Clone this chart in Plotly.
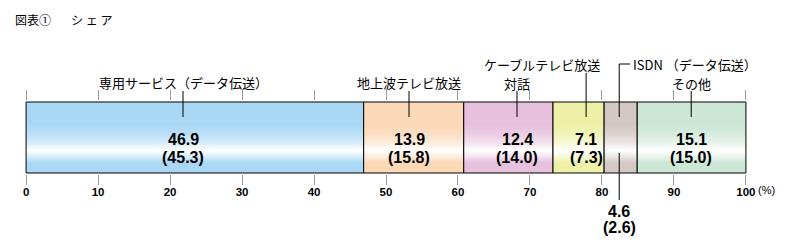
import plotly.graph_objects as go

# ---- data ----
categories = ["専用サービス（データ伝送）", "地上波テレビ放送", "対話",
              "ケーブルテレビ放送", "ISDN （データ伝送）", "その他"]
share_current = [46.9, 13.9, 12.4, 7.1, 4.6, 15.1]
share_previous = [45.3, 15.8, 14.0, 7.3, 2.6, 15.0]
tick_values = [0, 10, 20, 30, 40, 50, 60, 70, 80, 90, 100]
tick_labels = ["0", "10", "20", "30", "40", "50", "60", "70", "80", "90", "100"]
title_main = "図表①"
title_sub = "シ ェ ア"
unit_text = "(%)"

# ---- styles / layout positions ----
colors = ["#a9d8f5", "#fbd8b6", "#e6c0dc", "#eef0a8", "#d4c8c4", "#cce7d5"]
label_x = [21.8, 53.2, 68.2, 77.8, 82.4, 92.4]      # leader / value positions (axis units)

W, H = 785, 248
PT, PB = 101, 174           # plot-area top/bottom in pixels
L, R = 25, 38
JP = "Noto Sans CJK JP"
NUM = "Liberation Sans"


def py(p):
    """pixel row -> paper y"""
    return (PB - p) / (PB - PT)


def px(p):
    """pixel column -> paper x"""
    return (p - L) / (W - L - R)


def lighten(hexc, f):
    h = hexc.lstrip("#")
    r, g, b = int(h[0:2], 16), int(h[2:4], 16), int(h[4:6], 16)
    r = int(r + (255 - r) * f); g = int(g + (255 - g) * f); b = int(b + (255 - b) * f)
    return f"rgb({r},{g},{b})"


fig = go.Figure()

bar_y0, bar_y1 = py(173), py(102)
start = 0.0
for cat, v, c in zip(categories, share_current, colors):
    end = start + v
    scale = [[0.0, c], [0.14, c], [0.24, lighten(c, 0.6)], [0.32, "#ffffff"],
             [0.42, lighten(c, 0.55)], [0.55, lighten(c, 0.2)], [0.68, c], [1.0, c]]
    fig.add_trace(go.Scatter(
        x=[start, end, end, start, start],
        y=[bar_y0, bar_y0, bar_y1, bar_y1, bar_y0],
        mode="lines", fill="toself",
        fillgradient=dict(type="vertical", colorscale=scale),
        line=dict(color="black", width=1),
        hoverinfo="skip", showlegend=False, name=cat))
    start = end

ann = []
shapes = []
line_style = dict(color="black", width=1)
label_font = dict(family=JP, size=13, color="black")

# top labels: index -> (text center x in axis units, text y px, leader top px)
top_specs = {0: (21.8, 82, 91), 1: (53.2, 82, 91), 2: (68.2, 83, 91),
             3: (71.65, 64, 73), 5: (92.4, 83, 91)}
for i, (cx, ty, ltop) in top_specs.items():
    ann.append(dict(x=cx, y=py(ty), xref="x", yref="paper",
                    text=categories[i], showarrow=False, xanchor="center", yanchor="middle",
                    font=label_font))
    shapes.append(dict(type="line", xref="x", yref="paper",
                       x0=label_x[i], x1=label_x[i], y0=py(ltop), y1=py(117), line=line_style))

# ISDN label with elbow leader
isdn = 4
ann.append(dict(x=84.1, y=py(64), xref="x", yref="paper", text=categories[isdn],
                showarrow=False, xanchor="left", yanchor="middle", font=label_font))
shapes.append(dict(type="line", xref="x", yref="paper", x0=label_x[isdn], x1=83.9,
                   y0=py(64), y1=py(64), line=line_style))
shapes.append(dict(type="line", xref="x", yref="paper", x0=label_x[isdn], x1=label_x[isdn],
                   y0=py(64), y1=py(117), line=line_style))
shapes.append(dict(type="line", xref="x", yref="paper", x0=label_x[isdn], x1=label_x[isdn],
                   y0=py(153), y1=py(200), line=line_style))

# values (two lines each)
val_font = dict(family=NUM, size=16, color="black", weight="bold")
for i, (a, b) in enumerate(zip(share_current, share_previous)):
    y1p, y2p = (211, 227) if i == isdn else (139, 157)
    ann.append(dict(x=label_x[i], y=py(y1p), xref="x", yref="paper",
                    text=f"{a:.1f}", showarrow=False, xanchor="center", yanchor="middle",
                    font=val_font))
    ann.append(dict(x=label_x[i], y=py(y2p), xref="x", yref="paper",
                    text=f"({b:.1f})", showarrow=False, xanchor="center", yanchor="middle",
                    font=val_font))

# unit and title
ann.append(dict(x=100, y=py(190), xref="x", yref="paper", text=unit_text, showarrow=False,
                xanchor="left", yanchor="middle", xshift=10,
                font=dict(family=NUM, size=11, color="black")))
ann.append(dict(x=px(13), y=py(19), xref="paper", yref="paper",
                text=title_main, showarrow=False, xanchor="left", yanchor="middle",
                font=dict(family=JP, size=12, color="black")))
ann.append(dict(x=px(69), y=py(19), xref="paper", yref="paper",
                text=title_sub, showarrow=False, xanchor="left", yanchor="middle",
                font=dict(family=JP, size=12, color="black")))

fig.update_layout(
    width=W, height=H,
    margin=dict(l=L, r=R, t=PT, b=H - PB, pad=0),
    paper_bgcolor="white", plot_bgcolor="white",
    annotations=ann, shapes=shapes,
    xaxis=dict(range=[-0.15, 100.15], tickmode="array", tickvals=tick_values,
               ticktext=tick_labels, ticks="outside", ticklen=10, tickwidth=1,
               tickcolor="#999999", mirror="ticks", showline=False, showgrid=False,
               zeroline=False, fixedrange=True, ticklabelstandoff=-3,
               tickfont=dict(family=NUM, size=11.5, color="black", weight="bold")),
    yaxis=dict(range=[0, 1], visible=False, fixedrange=True),
    showlegend=False,
)

fig.write_html("out.html")
